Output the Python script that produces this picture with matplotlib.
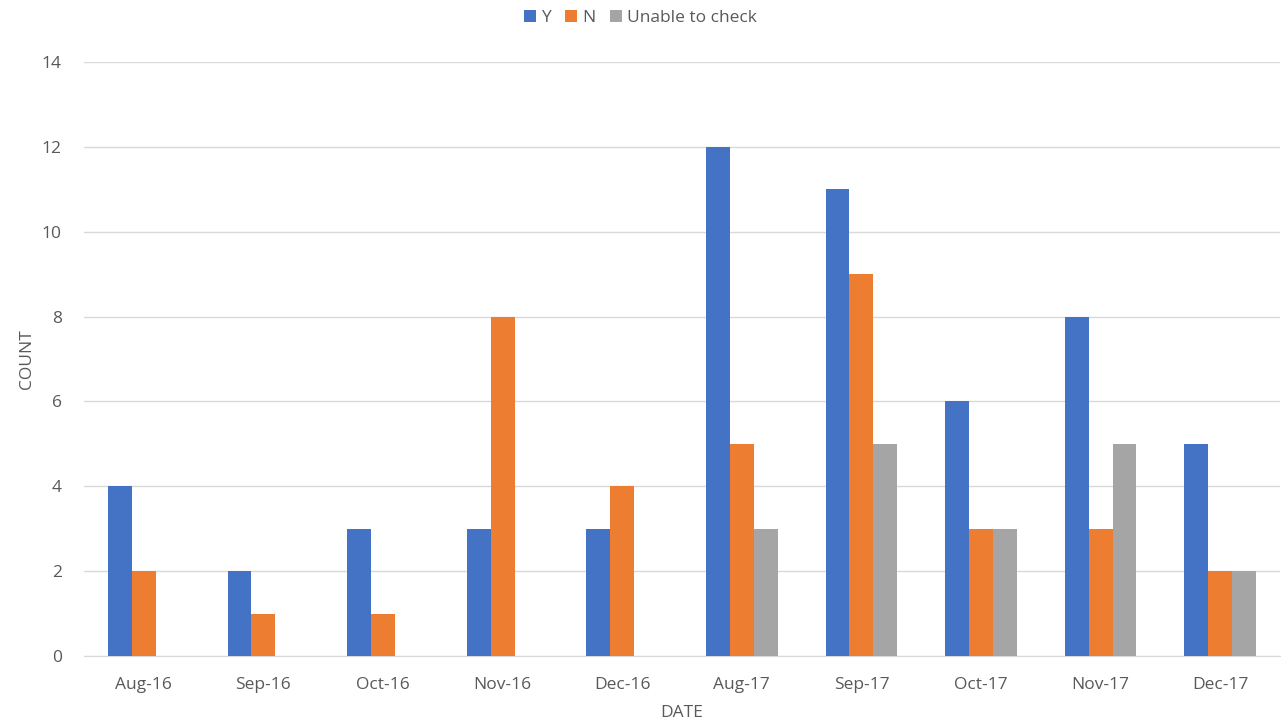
import numpy as np
import matplotlib
matplotlib.use("Agg")
import matplotlib.pyplot as plt

plt.rcParams['font.family'] = ['Open Sans', 'DejaVu Sans']

months = ["Aug-16", "Sep-16", "Oct-16", "Nov-16", "Dec-16",
          "Aug-17", "Sep-17", "Oct-17", "Nov-17", "Dec-17"]
y_vals = [4, 2, 3, 3, 3, 12, 11, 6, 8, 5]
n_vals = [2, 1, 1, 8, 4, 5, 9, 3, 3, 2]
unable_vals = [0, 0, 0, 0, 0, 3, 5, 3, 5, 2]

fig = plt.figure(figsize=(12.81, 7.27), dpi=100)
ax = fig.add_axes([0.0656, 0.0977, 0.9336, 0.817])

x = np.arange(len(months))
w = 0.2
ax.bar(x - w, y_vals, w, color='#4472C4', label='Y', zorder=3)
ax.bar(x, n_vals, w, color='#ED7D31', label='N', zorder=3)
ax.bar(x + w, unable_vals, w, color='#A5A5A5', label='Unable to check', zorder=3)

ax.set_xlim(-0.5, len(months) - 0.5)
ax.set_ylim(0, 14)
ax.set_yticks(range(0, 15, 2))
ax.set_xticks(x)
ax.set_xticklabels(months)
ax.grid(axis='y', color='#D9D9D9', linewidth=1, zorder=0)
for s in ['top', 'right', 'left']:
    ax.spines[s].set_visible(False)
ax.spines['bottom'].set_color('#D9D9D9')
ax.tick_params(axis='x', length=0, labelsize=12.5, labelcolor='#595959', pad=15)
ax.tick_params(axis='y', length=0, labelsize=12.5, labelcolor='#595959', pad=16)

ax.set_xlabel('DATE', fontsize=12.5, color='#595959', labelpad=9)
ax.set_ylabel('COUNT', fontsize=12.5, color='#595959', labelpad=5)

fig.legend(loc='upper center', bbox_to_anchor=(0.5, 1.008), ncol=3, frameon=False,
           fontsize=12.5, handlelength=0.7, handleheight=0.7, handletextpad=0.3,
           columnspacing=0.8, labelcolor='#595959')

fig.savefig('out.png', dpi=100)
